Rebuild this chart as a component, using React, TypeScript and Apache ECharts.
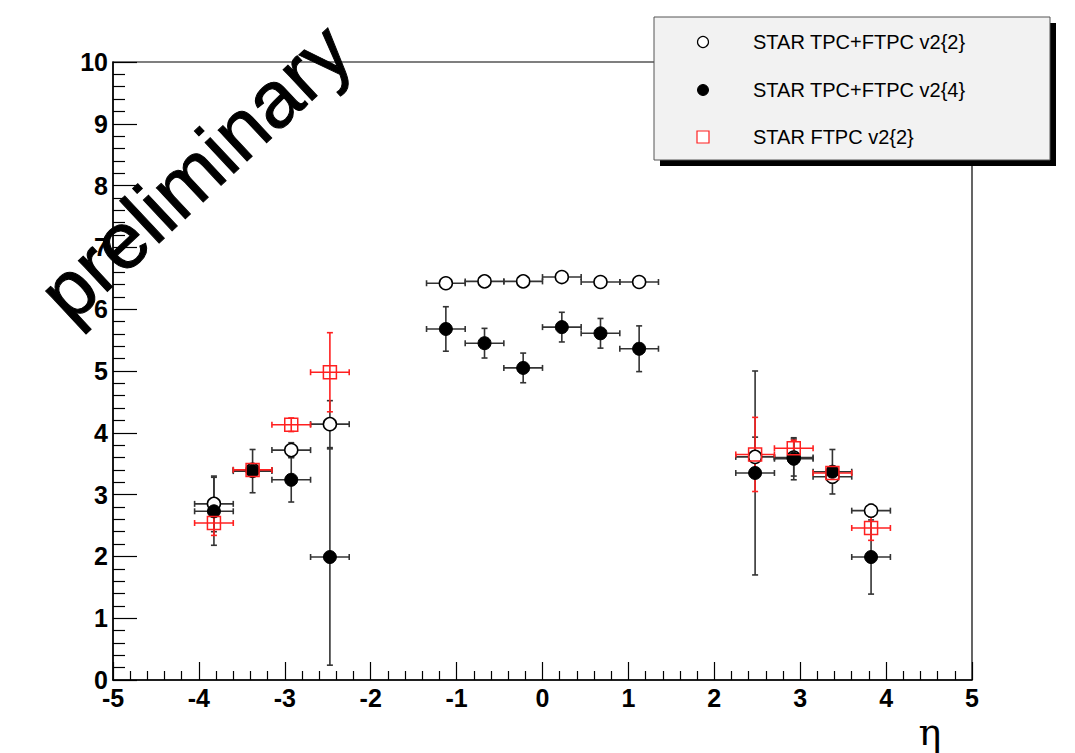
import React, { useEffect, useRef } from "react";
import * as echarts from "echarts";

// eta bin centres
const etaLeft = [-3.825, -3.375, -2.925, -2.475];
const etaMid = [-1.125, -0.675, -0.225, 0.225, 0.675, 1.125];
const etaRight = [2.475, 2.925, 3.375, 3.825];
const etaHalfWidth = 0.225;

// STAR TPC+FTPC v2{2} (open circles)
const v22Left = [2.85, 3.4, 3.72, 4.14];
const v22LeftErr = [0.45, 0.1, 0.12, 0.38];
const v22Mid = [6.42, 6.45, 6.45, 6.52, 6.44, 6.44];
const v22MidErr = [0.05, 0.05, 0.05, 0.05, 0.05, 0.05];
const v22Right = [3.61, 3.6, 3.29, 2.74];
const v22RightErr = [0.32, 0.3, 0.1, 0.1];

// STAR TPC+FTPC v2{4} (filled circles)
const v24Left = [2.73, 3.38, 3.24, 1.99];
const v24LeftErr = [0.55, 0.35, 0.36, 1.75];
const v24Mid = [5.68, 5.45, 5.05, 5.71, 5.61, 5.36];
const v24MidErr = [0.36, 0.24, 0.24, 0.24, 0.24, 0.37];
const v24Right = [3.35, 3.58, 3.37, 1.99];
const v24RightErr = [1.65, 0.34, 0.36, 0.6];

// STAR FTPC v2{2} (red open squares)
const ftpcLeft = [2.54, 3.4, 4.13, 4.98];
const ftpcLeftErr = [0.2, 0.1, 0.11, 0.64];
const ftpcRight = [3.65, 3.75, 3.35, 2.46];
const ftpcRightErr = [0.6, 0.13, 0.08, 0.2];

const legendLabels = [
  "STAR TPC+FTPC v2{2}",
  "STAR TPC+FTPC v2{4}",
  "STAR FTPC v2{2}",
];

function build(xs: number[], ys: number[], es: number[]) {
  return xs.map((x, i) => [x, ys[i], etaHalfWidth, es[i]]);
}

const v22Data = [
  ...build(etaLeft, v22Left, v22LeftErr),
  ...build(etaMid, v22Mid, v22MidErr),
  ...build(etaRight, v22Right, v22RightErr),
];
const v24Data = [
  ...build(etaLeft, v24Left, v24LeftErr),
  ...build(etaMid, v24Mid, v24MidErr),
  ...build(etaRight, v24Right, v24RightErr),
];
const ftpcData = [
  ...build(etaLeft, ftpcLeft, ftpcLeftErr),
  ...build(etaRight, ftpcRight, ftpcRightErr),
];

function errorBars(data: number[][], color: string) {
  return {
    type: "custom",
    data,
    encode: { x: 0, y: 1 },
    z: 2,
    silent: true,
    renderItem: (params: any, api: any) => {
      const x = api.value(0);
      const y = api.value(1);
      const ex = api.value(2);
      const ey = api.value(3);
      const l = api.coord([x - ex, y]);
      const r = api.coord([x + ex, y]);
      const t = api.coord([x, y + ey]);
      const b = api.coord([x, y - ey]);
      const c = 3;
      const style = { stroke: color, lineWidth: 1.6 };
      return {
        type: "group",
        children: [
          { type: "line", shape: { x1: l[0], y1: l[1], x2: r[0], y2: r[1] }, style },
          { type: "line", shape: { x1: t[0], y1: t[1], x2: b[0], y2: b[1] }, style },
          { type: "line", shape: { x1: l[0], y1: l[1] - c, x2: l[0], y2: l[1] + c }, style },
          { type: "line", shape: { x1: r[0], y1: r[1] - c, x2: r[0], y2: r[1] + c }, style },
          { type: "line", shape: { x1: t[0] - c, y1: t[1], x2: t[0] + c, y2: t[1] }, style },
          { type: "line", shape: { x1: b[0] - c, y1: b[1], x2: b[0] + c, y2: b[1] }, style },
        ],
      };
    },
  };
}

export default function App() {
  const ref = useRef<HTMLDivElement>(null);
  useEffect(() => {
    if (!ref.current) return;
    const chart = echarts.init(ref.current, undefined, { renderer: "svg" });
    const axisLabel = {
      color: "#000",
      fontSize: 25,
      fontWeight: "bold",
      fontFamily: "Liberation Sans, Arial, sans-serif",
    };
    const legendY = [42, 90, 137];
    chart.setOption({
      animation: false,
      backgroundColor: "#fff",
      grid: {
        left: 113,
        right: 103,
        top: 62,
        bottom: 73,
        show: true,
        borderColor: "#000",
        borderWidth: 1.2,
        backgroundColor: "transparent",
      },
      xAxis: {
        type: "value",
        min: -5,
        max: 5,
        interval: 1,
        axisLine: { onZero: false, lineStyle: { color: "#000", width: 1.5 } },
        axisTick: { inside: true, length: 18, lineStyle: { color: "#000", width: 1.2 } },
        minorTick: { show: true, splitNumber: 5, length: 9, lineStyle: { color: "#000", width: 1.2 } },
        splitLine: { show: false },
        axisLabel: { ...axisLabel, margin: 9, lineHeight: 18 },
      },
      yAxis: {
        type: "value",
        min: 0,
        max: 10,
        interval: 1,
        axisLine: { onZero: false, lineStyle: { color: "#000", width: 1.5 } },
        axisTick: { inside: true, length: 24, lineStyle: { color: "#000", width: 1.2 } },
        minorTick: { show: true, splitNumber: 5, length: 12, lineStyle: { color: "#000", width: 1.2 } },
        splitLine: { show: false },
        axisLabel: { ...axisLabel, margin: 5, lineHeight: 14 },
      },
      series: [
        errorBars(v22Data, "#333"),
        {
          name: legendLabels[0],
          type: "scatter",
          data: v22Data.map((d) => [d[0], d[1]]),
          symbol: "circle",
          symbolSize: 13,
          z: 3,
          itemStyle: { color: "#fff", borderColor: "#000", borderWidth: 1.5, opacity: 1 },
        },
        errorBars(v24Data, "#333"),
        {
          name: legendLabels[1],
          type: "scatter",
          data: v24Data.map((d) => [d[0], d[1]]),
          symbol: "circle",
          symbolSize: 13,
          z: 4,
          itemStyle: { color: "#000", borderColor: "#000", borderWidth: 1, opacity: 1 },
        },
        errorBars(ftpcData, "#ff2020"),
        {
          name: legendLabels[2],
          type: "scatter",
          data: ftpcData.map((d) => [d[0], d[1]]),
          symbol: "rect",
          symbolSize: 13,
          z: 5,
          itemStyle: { color: "rgba(0,0,0,0)", borderColor: "#ff2020", borderWidth: 1.5, opacity: 1 },
        },
      ],
      graphic: [
        {
          type: "text",
          x: 195,
          y: 172,
          rotation: (43 * Math.PI) / 180,
          z: 100,
          style: {
            text: "preliminary",
            fontSize: 80,
            fontFamily: "Liberation Sans, Arial, sans-serif",
            fill: "#000",
            stroke: "#000",
            lineWidth: 1,
            align: "center",
            verticalAlign: "middle",
          },
        },
        {
          type: "text",
          x: 930,
          y: 732,
          z: 100,
          style: {
            text: "η",
            fontSize: 38,
            fontFamily: "DejaVu Serif, Liberation Serif, serif",
            fill: "#000",
            align: "center",
            verticalAlign: "middle",
          },
        },
        {
          type: "rect",
          z: 50,
          shape: { x: 660, y: 23, width: 396, height: 143 },
          style: { fill: "#000" },
        },
        {
          type: "rect",
          z: 51,
          shape: { x: 654, y: 17, width: 396, height: 143 },
          style: { fill: "#f2f2f2", stroke: "#555", lineWidth: 1 },
        },
        {
          type: "circle",
          z: 52,
          shape: { cx: 703, cy: legendY[0], r: 5.5 },
          style: { fill: "#fff", stroke: "#000", lineWidth: 1.2 },
        },
        {
          type: "circle",
          z: 52,
          shape: { cx: 703, cy: legendY[1], r: 5.5 },
          style: { fill: "#000", stroke: "#000", lineWidth: 1 },
        },
        {
          type: "rect",
          z: 52,
          shape: { x: 697, y: legendY[2] - 6, width: 12, height: 12 },
          style: { fill: "#fff", stroke: "#ff2020", lineWidth: 1.2 },
        },
        ...legendLabels.map((t, i) => ({
          type: "text",
          z: 52,
          x: 753,
          y: legendY[i],
          style: {
            text: t,
            fontSize: 20,
            fontFamily: "Liberation Sans, Arial, sans-serif",
            fill: "#000",
            align: "left",
            verticalAlign: "middle",
          },
        })),
      ],
    });
    return () => chart.dispose();
  }, []);
  return <div ref={ref} style={{ width: 1075, height: 753, position: "absolute", left: 0, top: 0 }} />;
}
